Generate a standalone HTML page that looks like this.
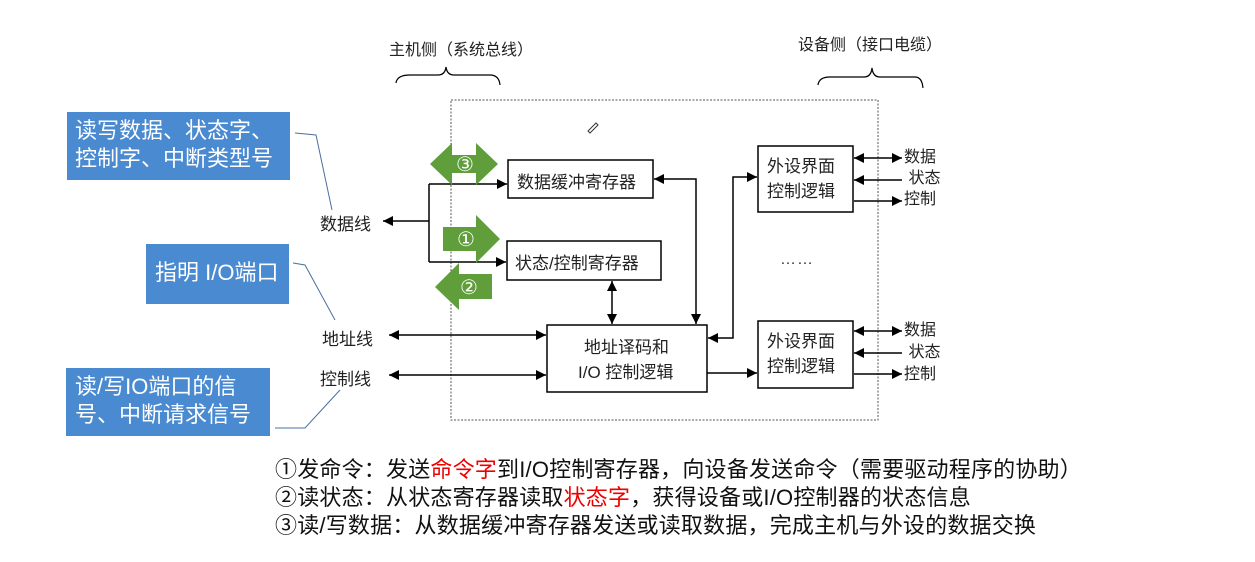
<!DOCTYPE html>
<html><head><meta charset="utf-8"><style>
html,body{margin:0;padding:0;background:#fff;width:1255px;height:562px;overflow:hidden}
body{position:relative;font-family:"Liberation Sans","Noto Sans CJK SC",sans-serif}
.t{position:absolute;white-space:nowrap;color:#222}
.blue{position:absolute;background:#4a8ad0;color:#fff;font-size:22px;line-height:28px;box-sizing:border-box}
.bt{position:absolute;left:275px;font-size:22px;color:#111;white-space:nowrap;letter-spacing:0.2px}
.r{color:#e00}
</style></head><body>
<svg width="1255" height="562" style="position:absolute;left:0;top:0">
<defs>
<marker id="a" viewBox="0 0 10 10" refX="10" refY="5" markerWidth="10" markerHeight="10" markerUnits="userSpaceOnUse" orient="auto-start-reverse"><path d="M0,0L10,5L0,10z" fill="#000"/></marker>
</defs>
<rect x="451" y="100" width="427" height="320" fill="none" stroke="#555" stroke-dasharray="2,1.5" stroke-width="1"/>
<g fill="none" stroke="#000" stroke-width="1.5">
<rect x="508" y="160" width="145" height="38"/>
<rect x="507" y="241" width="154" height="39"/>
<rect x="547" y="325" width="160" height="67"/>
<rect x="758" y="146" width="95" height="66"/>
<rect x="758" y="321" width="95" height="67"/>
<path d="M429,184V262"/>
<path d="M429,221H383" marker-end="url(#a)"/>
<path d="M429,184H507" marker-end="url(#a)"/>
<path d="M429,262H506" marker-end="url(#a)"/>
<path d="M389,335H546" marker-start="url(#a)" marker-end="url(#a)"/>
<path d="M389,375H546" marker-start="url(#a)" marker-end="url(#a)"/>
<path d="M612,281V324" marker-start="url(#a)" marker-end="url(#a)"/>
<path d="M654,179H696V324" marker-start="url(#a)" marker-end="url(#a)"/>
<path d="M708,338H733V177H757" marker-start="url(#a)" marker-end="url(#a)"/>
<path d="M707,373H757" marker-end="url(#a)"/>
<path d="M854,158H902" marker-start="url(#a)" marker-end="url(#a)"/>
<path d="M902,180H854" marker-end="url(#a)"/>
<path d="M854,201H902" marker-end="url(#a)"/>
<path d="M854,331H902" marker-start="url(#a)" marker-end="url(#a)"/>
<path d="M902,353H854" marker-end="url(#a)"/>
<path d="M854,374H902" marker-end="url(#a)"/>
<path d="M396,83Q397,75 410,75H438Q445,75 446,67Q447,75 454,75H490Q499,75 500,85" stroke-width="1.2"/>
<path d="M818,85Q819,77 830,77H864Q871,77 872,68Q873,77 880,77H915Q922,77 923,88" stroke-width="1.2"/>
</g>
<g fill="none" stroke="#4a70a0" stroke-width="1">
<path d="M295,133L316,135L332,210"/>
<path d="M293,263L305,265L335,320"/>
<path d="M275,428L305,428L340,390"/>
</g>
<g fill="#5f9e3a">
<path d="M430,164L452,143V155H476V143L498,164L476,185V173H452V185Z"/>
<path d="M443,227H476V215L500,239L476,263V251H443Z"/>
<path d="M492,274H459V263L435,287L459,310V299H492Z"/>
</g>
<g fill="#fff" font-size="20" text-anchor="middle" font-family="DejaVu Sans,sans-serif">
<text x="465" y="171">③</text><text x="466" y="246">①</text><text x="469" y="294">②</text>
</g>
<path d="M588,131l8,-8l2,2l-8,8z" fill="none" stroke="#333"/>
<text x="780" y="264" font-size="16" fill="#333" letter-spacing="1">……</text>
</svg>
<div class="t" style="left:389px;top:36px;font-size:16px">主机侧（系统总线）</div>
<div class="t" style="left:798px;top:31px;font-size:16px">设备侧（接口电缆）</div>
<div class="t" style="left:320px;top:210px;font-size:17px">数据线</div>
<div class="t" style="left:322px;top:325px;font-size:17px">地址线</div>
<div class="t" style="left:320px;top:365px;font-size:17px">控制线</div>
<div class="t" style="left:517px;top:168px;font-size:17px">数据缓冲寄存器</div>
<div class="t" style="left:515px;top:249px;font-size:17px">状态/控制寄存器</div>
<div class="t" style="left:584px;top:333px;font-size:17px">地址译码和</div>
<div class="t" style="left:578px;top:358px;font-size:17px">I/O 控制逻辑</div>
<div class="t" style="left:767px;top:154px;font-size:17px;line-height:25px">外设界面<br>控制逻辑</div>
<div class="t" style="left:767px;top:329px;font-size:17px;line-height:25px">外设界面<br>控制逻辑</div>
<div class="t" style="left:904px;top:147px;font-size:16px;line-height:21px">数据<br>&nbsp;状态<br>控制</div>
<div class="t" style="left:904px;top:320px;font-size:16px;line-height:22px">数据<br>&nbsp;状态<br>控制</div>
<div class="blue" style="left:67px;top:112px;width:223px;height:68px;padding:5px 0 0 8px">读写数据、状态字、<br>控制字、中断类型号</div>
<div class="blue" style="left:146px;top:244px;width:143px;height:60px;padding:15px 0 0 9px">指明 I/O端口</div>
<div class="blue" style="left:66px;top:368px;width:204px;height:68px;padding:5px 0 0 9px">读/写IO端口的信<br>号、中断请求信号</div>
<div class="bt" style="top:452px">①发命令：发送<span class="r">命令字</span>到I/O控制寄存器，向设备发送命令（需要驱动程序的协助）</div>
<div class="bt" style="top:480px">②读状态：从状态寄存器读取<span class="r">状态字</span>，获得设备或I/O控制器的状态信息</div>
<div class="bt" style="top:508px">③读/写数据：从数据缓冲寄存器发送或读取数据，完成主机与外设的数据交换</div>
</body></html>
